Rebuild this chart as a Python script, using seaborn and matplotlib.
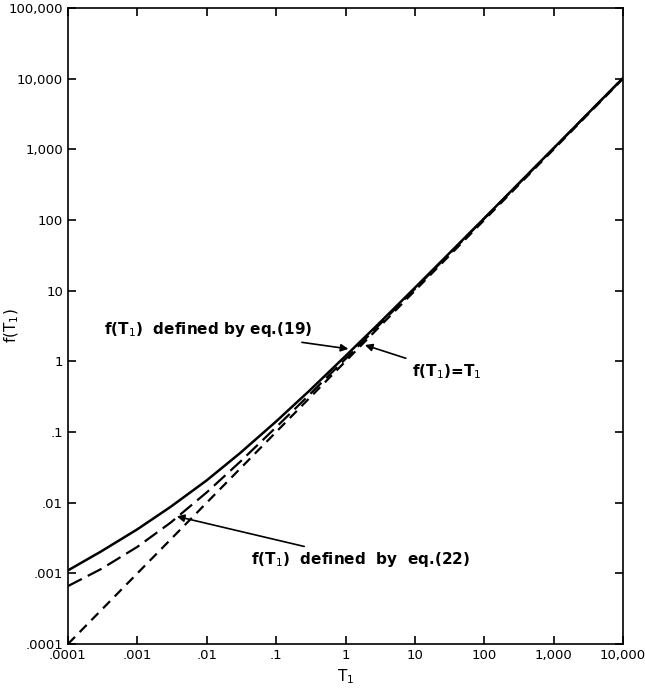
import numpy as np
import pandas as pd
import matplotlib
matplotlib.use("Agg")
import matplotlib.pyplot as plt
import seaborn as sns

# values
t_eq19 = [1e-4, 3e-4, 1e-3, 3e-3, 1e-2, 3e-2, 0.1, 0.3, 1, 3, 10, 100, 1000, 1e4]
f_eq19 = [0.0011, 0.00204, 0.0042, 0.0087, 0.0207, 0.050, 0.141, 0.382, 1.19, 3.4, 11.0, 106, 1040, 10230]

t_eq22 = [1e-4, 3e-4, 1e-3, 3e-3, 1e-2, 3e-2, 0.1, 0.3, 1, 10, 100, 1000, 1e4]
f_eq22 = [0.00066, 0.00115, 0.00237, 0.0052, 0.014, 0.0376, 0.117, 0.335, 1.08, 10.6, 105, 1035, 10230]

t_ident = [1e-4, 1e4]
f_ident = [1e-4, 1e4]

tick_vals = [1e-4, 1e-3, 1e-2, 1e-1, 1, 10, 100, 1000, 1e4, 1e5]
tick_text = [".0001", ".001", ".01", ".1", "1", "10", "100", "1,000", "10,000", "100,000"]

sns.set_style("ticks")
plt.rcParams['font.family'] = ['DejaVu Sans']
plt.rcParams['text.color'] = 'black'
plt.rcParams['axes.labelcolor'] = 'black'

fig = plt.figure(figsize=(6.45, 6.95), dpi=100)
ax = fig.add_axes([0.1054, 0.0734, 0.8606, 0.9151])

df19 = pd.DataFrame({"T": t_eq19, "f": f_eq19})
df22 = pd.DataFrame({"T": t_eq22, "f": f_eq22})
dfid = pd.DataFrame({"T": t_ident, "f": f_ident})

sns.lineplot(data=df19, x="T", y="f", ax=ax, color="black", linewidth=1.8)
sns.lineplot(data=df22, x="T", y="f", ax=ax, color="black", linewidth=1.6,
             linestyle=(0, (7, 3)))
sns.lineplot(data=dfid, x="T", y="f", ax=ax, color="black", linewidth=1.6,
             linestyle=(0, (4.5, 3)))

ax.set_xscale("log")
ax.set_yscale("log")
ax.set_xlim(1e-4, 1e4)
ax.set_ylim(1e-4, 1e5)

ax.set_xticks(tick_vals[:-1])
ax.set_xticklabels(tick_text[:-1])
ax.set_yticks(tick_vals)
ax.set_yticklabels(tick_text)
ax.minorticks_off()
ax.tick_params(which="major", direction="in", length=6, width=1.2,
               top=True, right=True, labelsize=9.5, colors="black")
for sp in ax.spines.values():
    sp.set_linewidth(1.2)
    sp.set_visible(True)
    sp.set_color("black")

ax.set_xlabel("T$_1$", fontsize=11)
ax.set_ylabel("f(T$_1$)", fontsize=11)
ax.yaxis.set_label_coords(-0.085, 0.5)

# annotations
arrow = dict(arrowstyle="-|>", color="black", lw=1.2, shrinkA=2, shrinkB=0)
ax.annotate("f(T$_1$)  defined by eq.(19)", xy=(1.1, 1.5), xytext=(0.00033, 2.85),
            fontsize=11, fontweight="bold", va="center", ha="left", arrowprops=arrow)
ax.annotate("f(T$_1$)=T$_1$", xy=(1.9, 1.7), xytext=(9, 0.72),
            fontsize=11, fontweight="bold", va="center", ha="left", arrowprops=arrow)
ax.annotate("f(T$_1$)  defined  by  eq.(22)", xy=(0.0037, 0.0064), xytext=(0.044, 0.00155),
            fontsize=11, fontweight="bold", va="center", ha="left", arrowprops=arrow)

fig.savefig("out.png", dpi=100)
